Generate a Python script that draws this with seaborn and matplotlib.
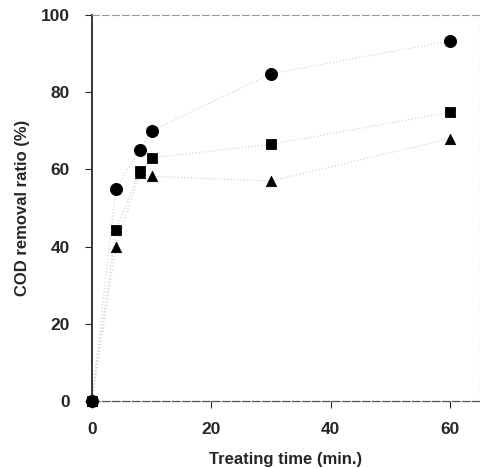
import pandas as pd
import numpy as np
import seaborn as sns
import matplotlib.pyplot as plt

# Data
time_min = [0, 4, 8, 10, 30, 60]
circle_vals = [0, 55, 65, 70, 84.8, 93.3]
square_vals = [0, 44.2, 59.5, 63, 66.5, 74.8]
triangle_vals = [0, 40, 59, 58.2, 57, 68]

df = pd.DataFrame({
    "time": time_min * 3,
    "removal": circle_vals + square_vals + triangle_vals,
    "series": ["circle"] * 6 + ["square"] * 6 + ["triangle"] * 6,
})

sns.set_style("ticks")
plt.rcParams['font.family'] = ['Liberation Sans', 'DejaVu Sans']

fig = plt.figure(figsize=(4.81, 4.69), dpi=100)
ax = fig.add_axes([0.191, 0.145, 0.807, 0.823])

# faint dotted connecting lines
sns.lineplot(data=df, x="time", y="removal", units="series", estimator=None,
             color="#d4d4d4", linestyle=":", linewidth=0.9, ax=ax, legend=False)

markers = {"circle": "o", "square": "s", "triangle": "^"}
sizes = {"circle": 75, "square": 55, "triangle": 55}
for name, grp in df.groupby("series"):
    sns.scatterplot(data=grp, x="time", y="removal", marker=markers[name],
                    s=sizes[name], color="black", edgecolor="black",
                    ax=ax, legend=False, zorder=3, clip_on=False)

ax.set_xlim(0, 65)
ax.set_ylim(0, 100)
ax.set_xticks([0, 20, 40, 60])
ax.set_yticks([0, 20, 40, 60, 80, 100])
ax.tick_params(direction="out", length=5, width=0.8, labelsize=12.5)
ax.tick_params(axis="x", pad=10)
ax.tick_params(axis="y", pad=11)
for lab in ax.get_xticklabels() + ax.get_yticklabels():
    lab.set_fontweight("bold")

ax.set_xlabel("Treating time (min.)", fontsize=12, fontweight="bold", labelpad=11)
ax.set_ylabel("COD removal ratio (%)", fontsize=12, fontweight="bold", labelpad=8)

for side in ["top", "right"]:
    ax.spines[side].set_visible(True)
    ax.spines[side].set_color("#999999")
    ax.spines[side].set_linestyle((0, (6, 3)))
    ax.spines[side].set_linewidth(0.8)
ax.spines["left"].set_linewidth(1.3)
ax.spines["bottom"].set_color("#555555")
ax.spines["bottom"].set_linestyle((0, (6, 2)))
ax.spines["bottom"].set_linewidth(0.9)

fig.savefig("out.png", dpi=100)
